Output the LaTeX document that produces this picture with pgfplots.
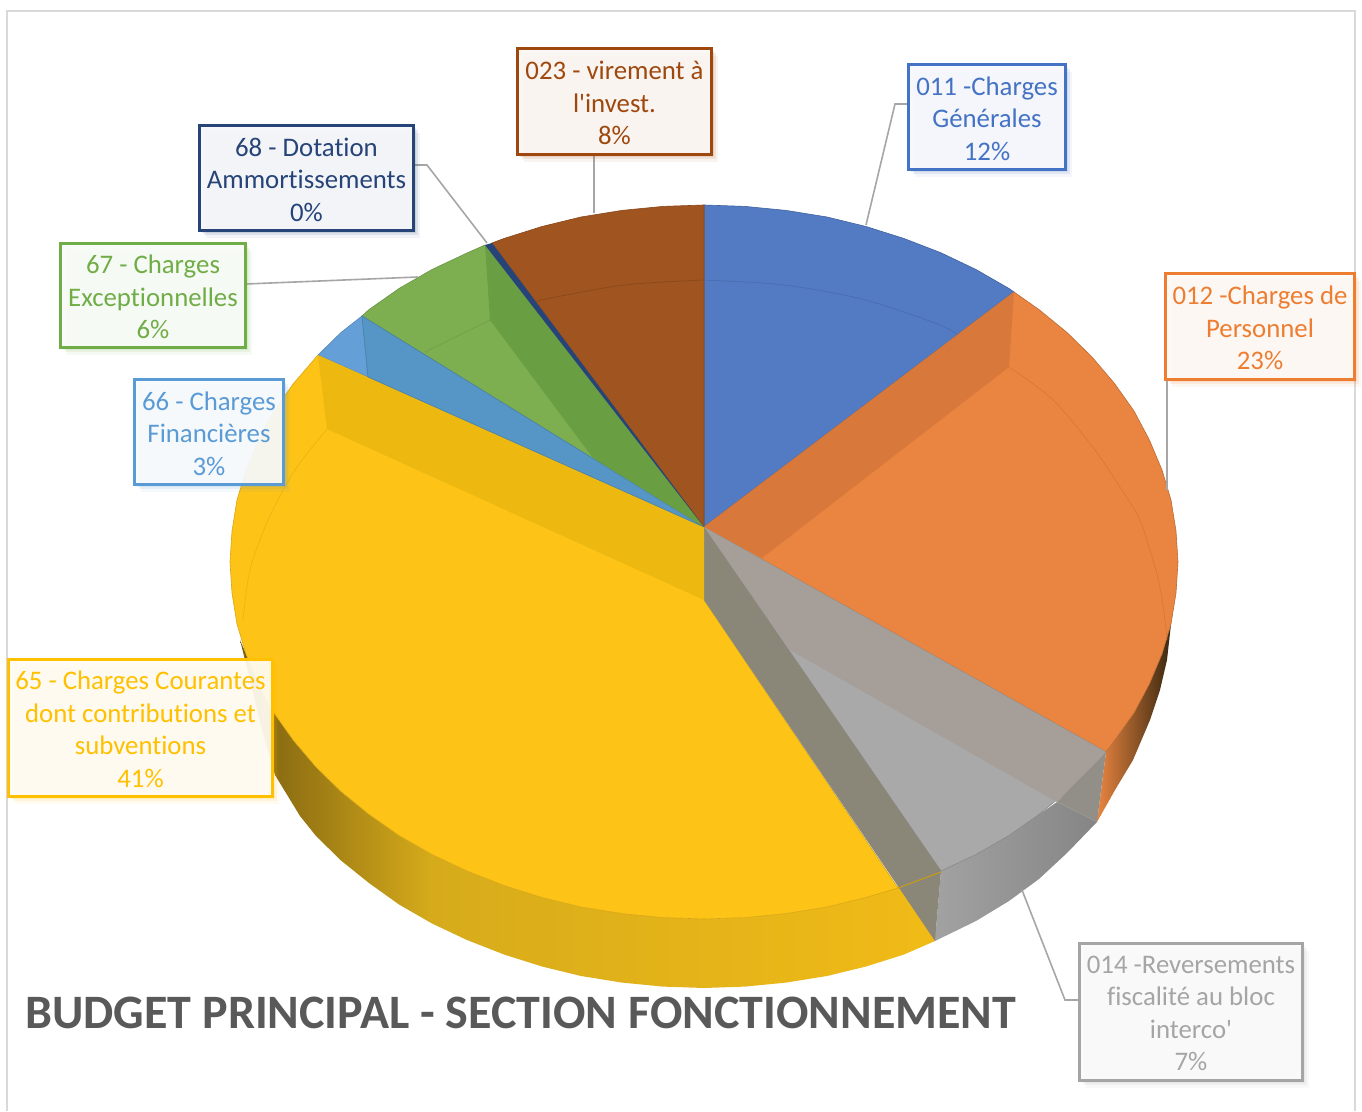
\documentclass[border=0pt]{standalone}
\usepackage{fontspec}
\setmainfont[Ligatures=NoCommon]{Carlito}
\usepackage{pgfplots}
\pgfplotsset{compat=1.18}
\usetikzlibrary{shadows}

\definecolor{cblue}{HTML}{4472C4}
\definecolor{corange}{HTML}{ED7D31}
\definecolor{cgrey}{HTML}{A5A5A5}
\definecolor{cbrown}{HTML}{9E480E}
\definecolor{cnavy}{HTML}{264478}
\definecolor{cgreen}{HTML}{70AD47}
\definecolor{csky}{HTML}{5B9BD5}
\definecolor{cyellow}{HTML}{FFC000}
\definecolor{leader}{HTML}{A6A6A6}
\definecolor{frame}{HTML}{D9D9D9}
% faces of the pie
\definecolor{topblue}{HTML}{527BC4}
\definecolor{toporange}{HTML}{E98540}
\definecolor{wallorange}{HTML}{D8783A}
\definecolor{topgrey}{HTML}{A9A9A9}
\definecolor{bandgrey}{HTML}{A69E98}
\definecolor{wallgrey}{HTML}{8B8778}
\definecolor{cornergrey}{HTML}{928E88}
\definecolor{topyellow}{HTML}{FDC316}
\definecolor{wallyellow}{HTML}{EDB911}
\definecolor{sideyellow}{HTML}{F1BB17}
\definecolor{midyellow}{HTML}{D6AB1B}
\definecolor{darkyellow}{HTML}{7A5E10}
\definecolor{topsky}{HTML}{649FD8}
\definecolor{wallsky}{HTML}{5596C6}
\definecolor{topgreen}{HTML}{7DAF51}
\definecolor{wallgreen}{HTML}{6A9E42}
\definecolor{topbrown}{HTML}{A0541F}
\definecolor{sideorangeA}{HTML}{E98540}
\definecolor{sideorangeB}{HTML}{A85E25}
\definecolor{sideorangeC}{HTML}{3A2810}
\definecolor{sidegreyA}{HTML}{A2A2A2}
\definecolor{sidegreyB}{HTML}{858585}
\definecolor{title}{HTML}{595959}

% label box: centre x, centre y, width, height, colour, text
\newcommand{\lbl}[6]{%
  \node[draw=#5, line width=1.35pt, fill=#5!4!white, fill opacity=.92,
        inner sep=0pt, minimum width=#3*0.5pt, minimum height=#4*0.5pt,
        drop shadow={shadow xshift=1pt, shadow yshift=-1.2pt, fill=#5, opacity=.12},
        drop shadow={shadow xshift=2pt, shadow yshift=-2.4pt, fill=#5, opacity=.10},
        drop shadow={shadow xshift=3pt, shadow yshift=-3.6pt, fill=#5, opacity=.06}]
    at (axis cs:#1,#2) {};
  \node[text=#5, align=center, inner sep=0pt,
        font=\fontsize{13.4}{16.3}\selectfont]
    at (axis cs:#1,#2+1.5) {#6};}

\begin{document}
\begin{tikzpicture}
\begin{axis}[
    scale only axis, hide axis, clip=false,
    width=681pt, height=555.5pt,
    xmin=0, xmax=1362, ymin=0, ymax=1111, y dir=reverse,
]
% background and frame
\addplot[fill=white, draw=none] coordinates {(0,0) (1362,0) (1362,1111) (0,1111)} --cycle;
\addplot[draw=frame, line width=1pt] coordinates {(7,1111) (7,11) (1355,11) (1355,1111)};

% side of the disc
\addplot[draw=none, left color=darkyellow, right color=midyellow] coordinates {
 (432,923.5) (399,904.5) (369,883) (341,860.5) (316,836)
 (300,816) (275,775) (262,730) (250,680) (240,640)
 (246,654) (258.6,684) (274,713) (293.5,740.5) (316,767) (341,791.5) (369,814) (399,835.5) (432,854.5)} --cycle;
\addplot[draw=none, left color=midyellow, middle color=sideyellow, right color=sideyellow] coordinates {
 (935,941) (904,954.5) (866,966.5) (827,976) (786,982.6) (745,986.6) (704,988) (663,986.6) (622,982.6)
 (581,976) (542,966.5) (504,954.5) (467,940) (432,923.5)
 (432,854.5)
 (467,871) (504,885.5) (542,897.5) (581,907) (622,913.6) (663,917.6) (704,919) (745,917.6) (786,913.6)
 (827,907) (866,897.5) (906,884)} --cycle;
\addplot[draw=none, left color=sideorangeA, middle color=sideorangeB, right color=sideorangeC] coordinates {
 (1106,752) (1097,822) (1115,790) (1133,760) (1150,720) (1160,690) (1167,660) (1171,624)
 (1162,654) (1149.4,684) (1134,713) (1114.5,740.5)} --cycle;
\addplot[draw=none, left color=sidegreyA, right color=sidegreyB] coordinates {
 (941,871) (935,941) (976,921) (1009,901) (1039,879) (1067,853) (1097,822) (1057,802)
 (1039,814.4) (1009,835.5) (976,854.5)} --cycle;

% top faces
\addplot[fill=topblue, draw=topblue!80!black, line width=.3pt] coordinates {
 (704,527) (704,205) (745,206.4) (786,210.4) (827,217) (866,226.5) (904,238.5) (941,252.8) (976,269.5)
 (1009,288.5) (1014,292)} --cycle;
\addplot[fill=toporange, draw=toporange!80!black, line width=.3pt] coordinates {
 (704,527) (1014,292) (1039,309.6) (1067,332.5) (1092,357) (1114.5,383.5) (1134,411) (1149.4,440)
 (1162,470) (1171,500) (1176,531) (1178,562) (1176,593) (1171,624) (1162,654) (1149.4,684) (1134,713)
 (1114.5,740.5) (1106,752)} --cycle;
\addplot[fill=topgrey, draw=topgrey!80!black, line width=.3pt] coordinates {
 (704,527) (1106,752) (1092,767) (1067,791.5) (1039,814.4) (1009,835.5) (976,854.5) (941,871)} --cycle;
\addplot[fill=topyellow, draw=topyellow!85!black, line width=.3pt] coordinates {
 (704,600) (704,527) (318,355) (293.5,383.5) (274,411) (258.6,440) (246,470) (237,500) (232,531) (230,562)
 (232,593) (237,624) (246,654) (258.6,684) (274,713) (293.5,740.5) (316,767) (341,791.5) (369,814.4)
 (399,835.5) (432,854.5) (467,871) (504,885.5) (542,897.5) (581,907) (622,913.6) (663,917.6) (704,919)
 (745,917.6) (786,913.6) (827,907) (866,897.5) (898,888)} --cycle;
\addplot[fill=topsky, draw=topsky!85!black, line width=.3pt] coordinates {
 (318,355) (341,332.5) (362,316) (368,377)} --cycle;
\addplot[fill=topgreen, draw=topgreen!85!black, line width=.3pt] coordinates {
 (704,527) (362,316) (369,309.6) (399,288.5) (432,269.5) (467,253) (485,245)} --cycle;
\addplot[fill=topbrown, draw=topbrown!85!black, line width=.3pt] coordinates {
 (704,527) (492,243) (504,238.5) (542,226.5) (581,217) (622,210.4) (663,206.4) (704,205)} --cycle;

% walls of the recess
\addplot[fill=wallorange, draw=none] coordinates {(704,527) (1014,292) (1009,367) (762,558)} --cycle;
\addplot[fill=bandgrey, draw=none] coordinates {
 (704,527) (1106,752) (1092,767) (1067,791.5) (1057,802) (790,650)} --cycle;
\addplot[fill=cornergrey, draw=none] coordinates {
 (1106,752) (1097,822) (1057,802) (1067,791.5) (1092,767)} --cycle;
\addplot[fill=wallgrey, draw=none] coordinates {(704,527) (704,600) (935,941) (941,871)} --cycle;
\addplot[fill=wallyellow, draw=none] coordinates {(704,527) (318,355) (327,429) (704,600)} --cycle;
\addplot[fill=wallsky, draw=wallsky!85!black, line width=.3pt] coordinates {(704,527) (362,316) (368,377)} --cycle;
\addplot[fill=wallgreen, draw=none] coordinates {(704,527) (485,245) (490,320) (593,458)} --cycle;
\addplot[fill=cnavy, draw=none] coordinates {(704,527) (485,245) (492,243)} --cycle;

% thin inner arc on the faces
\addplot[smooth, draw=topblue!88!black, line width=.3pt] coordinates {(704,280) (784,285) (862,299) (935,323) (957,334)};
\addplot[smooth, draw=topbrown!85!black, line width=.3pt] coordinates {(538,302) (546,299) (624,285) (704,280)};
\addplot[smooth, draw=toporange!90!black, line width=.3pt] coordinates {
 (1009,367) (1053,400) (1095,450) (1125,495) (1140,520) (1153,560) (1160,587) (1165,620) (1167,640)};
\addplot[draw=topgreen!90!black, line width=.3pt] coordinates {(425,352) (490,320)};
\addplot[smooth, draw=topyellow!92!black, line width=.3pt] coordinates {(327,429) (295,470) (268,520) (250,570) (243,620)};
\addplot[draw=topyellow!80!black, line width=.5pt] coordinates {(898,888) (941,872)};

% leader lines
\addplot[draw=leader, line width=.8pt] coordinates {(866,225) (895,104) (908,104)};
\addplot[draw=leader, line width=.8pt] coordinates {(1167,380) (1167,490)};
\addplot[draw=leader, line width=.8pt] coordinates {(1022,890) (1065,1000) (1079,1000)};
\addplot[draw=leader, line width=.8pt] coordinates {(594,155) (594,213)};
\addplot[draw=leader, line width=.8pt] coordinates {(414,165) (427,165) (487,243)};
\addplot[draw=leader, line width=.8pt] coordinates {(246,284) (418,277)};

% labels
\lbl{987}{117}{157}{105}{cblue}{011 -Charges\\Générales\\12\%}
\lbl{1260}{326.5}{189}{106}{corange}{012 -Charges de\\Personnel\\23\%}
\lbl{1191}{1012}{223}{137}{cgrey}{014 -Reversements\\fiscalité au bloc\\interco\textquotesingle\\7\%}
\lbl{614.5}{101.5}{194}{106}{cbrown}{023 - virement à\\l\textquotesingle invest.\\8\%}
\lbl{306.5}{178}{214}{105}{cnavy}{68 - Dotation\\Ammortissements\\0\%}
\lbl{153}{295.5}{185}{104}{cgreen}{67 - Charges\\Exceptionnelles\\6\%}
\lbl{209}{432}{149}{105}{csky}{66 - Charges\\Financières\\3\%}
\lbl{140.5}{728}{264}{137}{cyellow}{65 - Charges Courantes\\dont contributions et\\subventions\\41\%}

\node[anchor=west, inner sep=0pt, text=title, font=\bfseries\fontsize{24}{26}\selectfont] at (axis cs:25,1013)
  {BUDGET PRINCIPAL - SECTION FONCTIONNEMENT};
\end{axis}
\end{tikzpicture}
\end{document}
